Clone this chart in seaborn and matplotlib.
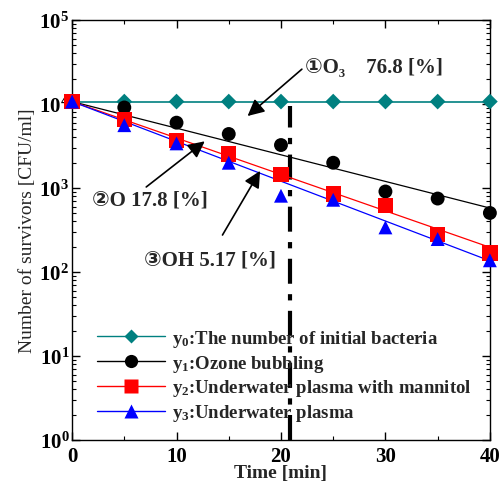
import matplotlib
matplotlib.use("Agg")
import matplotlib.pyplot as plt
import seaborn as sns
import numpy as np
import pandas as pd
from matplotlib.lines import Line2D
from matplotlib.ticker import LogLocator, MultipleLocator, NullFormatter

# ---- data ----
time_min = [0, 5, 10, 15, 20, 25, 30, 35, 40]
y0_initial = [1.07e4] * 9
y1_ozone = [1.07e4, 9.1e3, 6.0e3, 4.4e3, 3.25e3, 2.0e3, 910, 750, 505]
y2_mannitol = [1.07e4, 6.6e3, 3.7e3, 2.55e3, 1.45e3, 850, 615, 278, 168]
y3_plasma = [1.07e4, 5.6e3, 3.4e3, 2.0e3, 810, 725, 340, 247, 138]

fit_time = [0, 40]
fit_y1 = [1.07e4, 578]
fit_y2 = [1.07e4, 197]
fit_y3 = [1.07e4, 136]

vline_time = 20.9
legend_labels = ["y$_0$:The number of initial bacteria",
                 "y$_1$:Ozone bubbling",
                 "y$_2$:Underwater plasma with mannitol",
                 "y$_3$:Underwater plasma"]
annot_labels = ["①O₃    76.8 [%]", "②O 17.8 [%]", "③OH 5.17 [%]"]

# ---- style ----
sns.set_style("ticks")
plt.rcParams["font.family"] = ["Liberation Serif", "DejaVu Sans"]
plt.rcParams["font.weight"] = "bold"
plt.rcParams["mathtext.fontset"] = "custom"
plt.rcParams["mathtext.rm"] = "Liberation Serif:bold"
plt.rcParams["mathtext.it"] = "Liberation Serif:bold"
plt.rcParams["mathtext.bf"] = "Liberation Serif:bold"
plt.rcParams["mathtext.default"] = "rm"

fig = plt.figure(figsize=(5.04, 4.89), dpi=100)
ax = fig.add_axes([0.143, 0.098, 0.829, 0.859])

teal = "#008080"
series = [
    (y0_initial, teal, "D", 8.0, None),
    (y1_ozone, "black", "o", 10, fit_y1),
    (y2_mannitol, "#ff0000", "s", 11, fit_y2),
    (y3_plasma, "#0000ff", "^", 10, fit_y3),
]

# teal line through data
df0 = pd.DataFrame({"t": time_min, "v": y0_initial})
sns.lineplot(data=df0, x="t", y="v", ax=ax, color=teal, lw=1.2, legend=False)

# fit lines
for vals, col, mk, ms, fit in series[1:]:
    tt = np.linspace(0, 40, 100)
    lv = np.interp(tt, fit_time, np.log10(fit))
    ax.plot(tt, 10 ** lv, color=col, lw=0.9, zorder=2)

# markers
for vals, col, mk, ms, fit in series:
    df = pd.DataFrame({"t": time_min, "v": vals})
    sns.scatterplot(data=df, x="t", y="v", ax=ax, color=col, marker=mk,
                    s=ms ** 2, edgecolor="none", zorder=3, legend=False,
                    clip_on=False)

# vertical dash-dot line
ax.plot([vline_time, vline_time], [1.0, 9.5e3], color="black", lw=3,
        linestyle=(0, (6, 2.5, 1.5, 2.5)), zorder=1)

ax.set_yscale("log")
ax.set_xlim(0, 40)
ax.set_ylim(1, 1e5)
ax.xaxis.set_major_locator(MultipleLocator(10))
ax.xaxis.set_minor_locator(MultipleLocator(5))
ax.yaxis.set_major_locator(LogLocator(base=10, numticks=10))
ax.yaxis.set_minor_locator(LogLocator(base=10, subs=np.arange(2, 10), numticks=20))
ax.yaxis.set_minor_formatter(NullFormatter())
ax.tick_params(which="both", direction="in", top=True, right=True, colors="black")
ax.tick_params(which="major", length=6, width=1, labelsize=15)
ax.tick_params(axis="x", which="major", pad=4)
ax.tick_params(axis="y", which="major", pad=2)
ax.tick_params(which="minor", length=3, width=0.8)
for lab in ax.get_xticklabels() + ax.get_yticklabels():
    lab.set_fontweight("bold")
for s in ax.spines.values():
    s.set_color("black")
    s.set_linewidth(1)

ax.set_xlabel("Time [min]", fontsize=14, fontweight="bold", labelpad=-1)
ax.set_ylabel("Number of survivors [CFU/ml]", fontsize=14, fontweight="normal", labelpad=2)

# legend
handles = []
for (vals, col, mk, ms, fit), lab in zip(series, legend_labels):
    handles.append(Line2D([], [], color=col, marker=mk, markersize=ms * 0.95,
                          markeredgecolor="none", lw=1.0))
ax.legend(handles, legend_labels, loc="lower left", bbox_to_anchor=(0.02, 0.0),
          frameon=False, handlelength=3.6, handletextpad=0.4,
          labelspacing=0.2, prop={"family": ["Liberation Serif"], "weight": "bold", "size": 13.5})

# annotations
arrow = dict(arrowstyle="-|>", color="black", lw=1.2, mutation_scale=25,
             shrinkA=0, shrinkB=0)
fam = ["Liberation Serif", "DejaVu Sans"]
ax.annotate("", xy=(16.8, 7.2e3), xytext=(22.0, 2.6e4), arrowprops=arrow)
ax.text(22.3, 2.75e4, annot_labels[0], fontsize=15, fontweight="bold",
        va="center", ha="left", family=fam)
ax.annotate("", xy=(12.7, 3.6e3), xytext=(7.1, 1.03e3), arrowprops=arrow)
ax.text(1.9, 740, annot_labels[1], fontsize=15, fontweight="bold",
        va="center", ha="left", family=fam)
ax.annotate("", xy=(18.0, 1.6e3), xytext=(14.4, 276), arrowprops=arrow)
ax.text(6.9, 143, annot_labels[2], fontsize=15, fontweight="bold",
        va="center", ha="left", family=fam)

fig.savefig("out.png", dpi=100)
